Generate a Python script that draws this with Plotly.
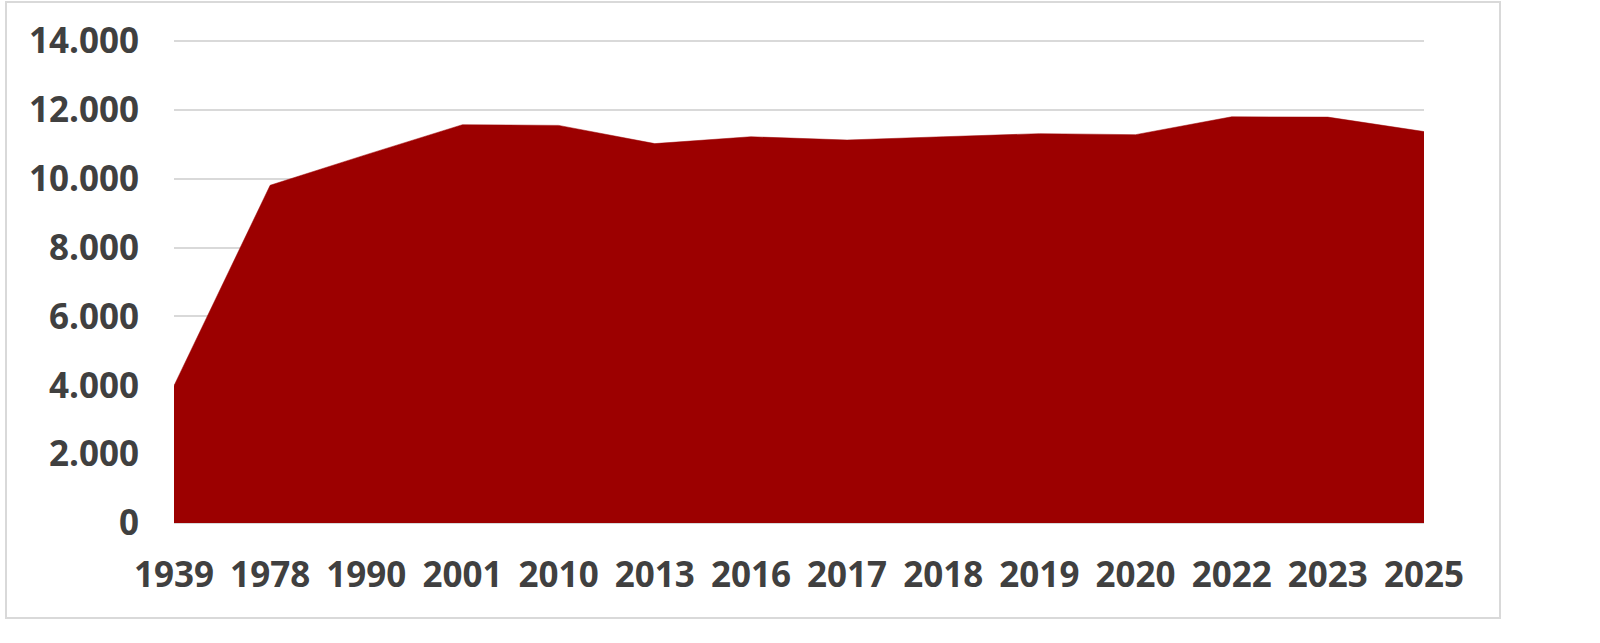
import plotly.graph_objects as go

years = ["1939", "1978", "1990", "2001", "2010", "2013", "2016", "2017",
         "2018", "2019", "2020", "2022", "2023", "2025"]
values = [3990, 9810, 10700, 11570, 11550, 11020, 11220, 11125,
          11220, 11310, 11280, 11800, 11790, 11370]
y_ticks = [0, 2000, 4000, 6000, 8000, 10000, 12000, 14000]

fill_color = "#9c0000"
text_color = "#404040"
grid_color = "#d9d9d9"
font_family = "Open Sans, DejaVu Sans, sans-serif"

fig = go.Figure()
fig.add_trace(go.Scatter(
    x=years, y=values, mode="lines", fill="tozeroy",
    fillcolor=fill_color, line=dict(color=fill_color, width=0.5),
    hoverinfo="x+y", showlegend=False,
))

L, R, T, B = 174, 176, 40, 120
W, H = 1600, 643
pw, ph = W - L - R, H - T - B

fig.update_layout(
    width=W, height=H,
    margin=dict(l=L, r=R, t=T, b=B, pad=0),
    paper_bgcolor="white", plot_bgcolor="white",
    separators=",.",
    font=dict(family=font_family, color=text_color, size=35),
    shapes=[dict(
        type="rect", xref="paper", yref="paper", layer="below",
        x0=(6 - L) / pw, x1=(1500 - L) / pw,
        y0=(H - B - 618) / ph, y1=(H - B - 2) / ph,
        line=dict(color=grid_color, width=2), fillcolor="rgba(0,0,0,0)",
    )],
)
fig.update_xaxes(
    type="category", categoryorder="array", categoryarray=years,
    range=[0, len(years) - 1], showgrid=False, zeroline=False,
    showline=False, ticks="", ticklabelstandoff=28,
    tickfont=dict(family=font_family, size=35, color=text_color, weight="bold"),
    fixedrange=True,
)
fig.update_yaxes(
    range=[0, 14030], tickvals=y_ticks, tickformat=",d",
    showgrid=True, gridcolor=grid_color, gridwidth=2,
    zeroline=True, zerolinecolor=grid_color, zerolinewidth=2,
    showline=False, ticks="", ticklabelstandoff=34,
    tickfont=dict(family=font_family, size=35, color=text_color, weight="bold"),
    fixedrange=True,
)

fig.write_html("out.html", config={"displayModeBar": False},
               post_script="document.body.style.margin='0';")
